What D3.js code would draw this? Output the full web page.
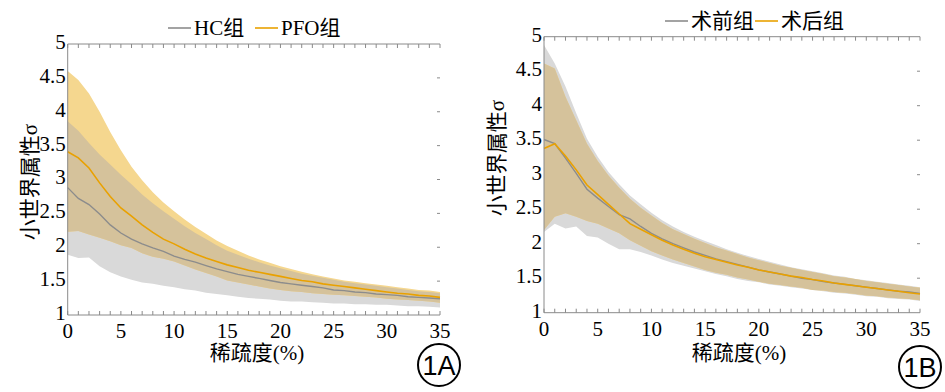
<!DOCTYPE html>
<html>
<head>
<meta charset="utf-8">
<script src="https://cdn.jsdelivr.net/npm/d3@7"></script>
<style>
  body { margin: 0; background: #fff; }
  svg { display: block; }
  .serif { font-family: "Liberation Serif", "Noto Sans CJK SC", serif; }
  .sans { font-family: "Liberation Sans", Arial, sans-serif; }
</style>
</head>
<body>
<div id="chart"></div>
<script>

// Data (sparsity 0..35 %)
const sparsity = [0,1,2,3,4,5,6,7,8,9,10,11,12,13,14,15,16,17,18,19,20,21,22,23,24,25,26,27,28,29,30,31,32,33,34,35];

// 1A : HC vs PFO
const hcMean  = [2.88,2.72,2.63,2.49,2.33,2.21,2.12,2.05,1.99,1.94,1.87,1.82,1.78,1.73,1.68,1.64,1.60,1.57,1.54,1.51,1.48,1.46,1.44,1.42,1.40,1.37,1.36,1.34,1.33,1.31,1.30,1.29,1.27,1.26,1.25,1.24];
const hcUpper = [3.86,3.72,3.54,3.37,3.22,3.07,2.93,2.78,2.65,2.53,2.42,2.31,2.21,2.12,2.03,1.95,1.89,1.83,1.78,1.73,1.69,1.65,1.61,1.58,1.55,1.52,1.49,1.47,1.45,1.43,1.41,1.39,1.37,1.35,1.34,1.32];
const hcLower = [1.89,1.84,1.85,1.72,1.63,1.57,1.52,1.48,1.46,1.43,1.41,1.38,1.36,1.33,1.31,1.29,1.27,1.25,1.24,1.23,1.21,1.20,1.20,1.19,1.18,1.17,1.17,1.16,1.16,1.15,1.15,1.14,1.13,1.13,1.12,1.11];
const pfoMean  = [3.41,3.32,3.17,2.95,2.75,2.58,2.46,2.33,2.22,2.12,2.05,1.97,1.90,1.84,1.79,1.74,1.70,1.66,1.63,1.60,1.57,1.54,1.51,1.49,1.46,1.44,1.42,1.40,1.38,1.36,1.34,1.32,1.31,1.29,1.28,1.26];
const pfoUpper = [4.60,4.47,4.27,4.00,3.70,3.43,3.19,2.99,2.81,2.66,2.53,2.41,2.30,2.20,2.10,2.02,1.95,1.88,1.82,1.77,1.72,1.68,1.64,1.60,1.57,1.54,1.51,1.49,1.47,1.45,1.43,1.41,1.39,1.37,1.36,1.34];
const pfoLower = [2.23,2.24,2.19,2.14,2.09,2.03,1.99,1.91,1.86,1.83,1.79,1.73,1.67,1.62,1.57,1.51,1.48,1.45,1.42,1.39,1.37,1.35,1.34,1.32,1.31,1.30,1.29,1.28,1.27,1.26,1.24,1.23,1.22,1.21,1.20,1.18];

// 1B : pre-op vs post-op
const preMean  = [3.51,3.45,3.24,3.02,2.79,2.66,2.54,2.42,2.36,2.25,2.15,2.07,2.00,1.94,1.88,1.83,1.78,1.74,1.70,1.66,1.62,1.59,1.56,1.53,1.50,1.48,1.45,1.43,1.41,1.39,1.37,1.35,1.33,1.31,1.30,1.28];
const preUpper = [4.88,4.61,4.28,3.89,3.52,3.26,3.04,2.86,2.70,2.57,2.45,2.34,2.25,2.17,2.10,2.04,1.98,1.92,1.87,1.82,1.78,1.74,1.70,1.66,1.63,1.60,1.57,1.54,1.52,1.49,1.47,1.45,1.43,1.41,1.39,1.37];
const preLower = [2.17,2.29,2.22,2.25,2.11,2.09,2.00,1.92,1.92,1.88,1.83,1.77,1.72,1.68,1.64,1.60,1.56,1.53,1.49,1.46,1.44,1.41,1.39,1.37,1.35,1.33,1.31,1.29,1.28,1.26,1.24,1.23,1.21,1.20,1.19,1.17];
const postMean  = [3.38,3.45,3.27,3.07,2.85,2.71,2.57,2.43,2.29,2.21,2.13,2.05,1.98,1.92,1.86,1.81,1.77,1.73,1.69,1.66,1.62,1.59,1.56,1.53,1.51,1.48,1.46,1.43,1.41,1.39,1.37,1.35,1.33,1.31,1.29,1.27];
const postUpper = [4.61,4.54,4.13,3.79,3.45,3.20,2.99,2.81,2.65,2.52,2.41,2.30,2.21,2.14,2.07,2.01,1.95,1.90,1.85,1.80,1.76,1.72,1.68,1.65,1.62,1.59,1.56,1.53,1.51,1.49,1.46,1.44,1.42,1.40,1.38,1.36];
const postLower = [2.20,2.39,2.44,2.39,2.33,2.29,2.22,2.15,2.05,1.97,1.89,1.83,1.77,1.72,1.67,1.62,1.58,1.55,1.51,1.48,1.45,1.42,1.40,1.38,1.36,1.33,1.32,1.30,1.29,1.27,1.25,1.24,1.22,1.21,1.20,1.18];

// tick labels
const xTicks = [0,5,10,15,20,25,30,35];
const yTicks = [1,1.5,2,2.5,3,3.5,4,4.5,5];
const yLabel = "小世界属性σ";
const xLabel = "稀疏度(%)";

// colors
const grayBand = "#d9d9d9";
const yellowBand = "#f5d78f";
const tanBand = "#d5c29b";
const grayLine = "#8c8c8c";
const orangeLine = "#e9a100";
const axisColor = "#8a8a8a";

const width = 945;
const height = 392;

const svg = d3.select("#chart").append("svg")
  .attr("width", width)
  .attr("height", height);

function drawPanel(p) {
  const x = d3.scaleLinear().domain([0, 35]).range([p.left, p.right]);
  const y = d3.scaleLinear().domain([1, 5]).range([p.bottom, p.top]);

  const rows = (lo, hi) => sparsity.map((s, i) => ({ s, lo: lo[i], hi: hi[i] }));
  const area = d3.area().x(d => x(d.s)).y0(d => y(d.lo)).y1(d => y(d.hi));
  const line = d3.line().x((d, i) => x(sparsity[i])).y(d => y(d));

  const g = svg.append("g");

  // bands: gray, yellow, overlap in tan
  const grayArea = area(rows(p.gLower, p.gUpper));
  const yellowArea = area(rows(p.oLower, p.oUpper));

  g.append("clipPath").attr("id", "clip" + p.id)
    .append("path").attr("d", grayArea);

  g.append("path").attr("d", grayArea).attr("fill", grayBand);
  g.append("path").attr("d", yellowArea).attr("fill", yellowBand);
  g.append("path").attr("d", yellowArea).attr("fill", tanBand)
    .attr("clip-path", `url(#clip${p.id})`);

  // mean lines
  g.append("path").attr("d", line(p.gMean))
    .attr("fill", "none").attr("stroke", grayLine).attr("stroke-width", 1.4);
  g.append("path").attr("d", line(p.oMean))
    .attr("fill", "none").attr("stroke", orangeLine).attr("stroke-width", 1.6);

  // frame: left, top and bottom axis lines
  const frame = g.append("g").attr("stroke", axisColor).attr("stroke-width", 1);
  frame.append("line").attr("x1", p.left).attr("x2", p.left).attr("y1", p.top).attr("y2", p.bottom);
  frame.append("line").attr("x1", p.left).attr("x2", p.right).attr("y1", p.top).attr("y2", p.top);
  frame.append("line").attr("x1", p.left).attr("x2", p.right).attr("y1", p.bottom).attr("y2", p.bottom);

  // minor ticks every 1 % on top and bottom
  frame.selectAll(".tt").data(sparsity).join("line")
    .attr("x1", d => x(d)).attr("x2", d => x(d))
    .attr("y1", p.top).attr("y2", p.top + 4);
  frame.selectAll(".bt").data(sparsity).join("line")
    .attr("x1", d => x(d)).attr("x2", d => x(d))
    .attr("y1", p.bottom).attr("y2", p.bottom - 4);

  // small dashes on the right side
  frame.selectAll(".rt").data(yTicks.slice(1, -1)).join("line")
    .attr("x1", p.right - 3).attr("x2", p.right)
    .attr("y1", d => y(d)).attr("y2", d => y(d));

  // tick labels
  g.append("g").attr("class", "serif").attr("font-size", 21)
    .selectAll("text").data(yTicks).join("text")
    .attr("x", p.left - 2).attr("y", d => y(d) - 2)
    .attr("dy", "0.33em")
    .attr("text-anchor", "end")
    .text(d => d);

  g.append("g").attr("class", "serif").attr("font-size", 21)
    .selectAll("text").data(xTicks).join("text")
    .attr("x", d => x(d)).attr("y", p.bottom + 16)
    .attr("dy", "0.33em")
    .attr("text-anchor", "middle")
    .text(d => d);

  // axis titles
  g.append("text").attr("class", "serif")
    .attr("transform", `translate(${p.yLabelX},${p.yLabelY}) rotate(-90)`)
    .attr("text-anchor", "middle").attr("dy", "0.35em")
    .attr("font-size", 21)
    .text(yLabel);

  g.append("text").attr("class", "serif")
    .attr("x", p.xLabelX).attr("y", p.xLabelY)
    .attr("text-anchor", "middle").attr("dy", "0.35em")
    .attr("font-size", 21)
    .text(xLabel);

  // legend
  const legend = g.append("g").attr("class", "serif").attr("font-size", 21);
  p.legend.forEach(item => {
    legend.append("line")
      .attr("x1", item.x).attr("x2", item.x + 23)
      .attr("y1", p.legendY).attr("y2", p.legendY)
      .attr("stroke", item.color).attr("stroke-width", 1.6);
    legend.append("text")
      .attr("x", item.x + 26).attr("y", p.legendY)
      .attr("dy", "0.35em")
      .text(item.name);
  });

  // panel badge
  const badge = g.append("g").attr("transform", `translate(${p.badgeX},${p.badgeY})`);
  badge.append("circle").attr("r", 21)
    .attr("fill", "none").attr("stroke", "#000").attr("stroke-width", 2);
  badge.append("text").attr("class", "sans")
    .attr("text-anchor", "middle").attr("dy", "0.36em")
    .attr("font-size", 27)
    .text(p.badge);
}

drawPanel({
  id: "A",
  left: 67.7, right: 440, top: 44, bottom: 315,
  gMean: hcMean, gUpper: hcUpper, gLower: hcLower,
  oMean: pfoMean, oUpper: pfoUpper, oLower: pfoLower,
  legendY: 28,
  legend: [
    { name: "HC组", x: 168, color: grayLine },
    { name: "PFO组", x: 255, color: orangeLine }
  ],
  yLabelX: 30, yLabelY: 182,
  xLabelX: 257, xLabelY: 353,
  badge: "1A", badgeX: 439, badgeY: 365
});

drawPanel({
  id: "B",
  left: 544, right: 920, top: 36.7, bottom: 312.7,
  gMean: preMean, gUpper: preUpper, gLower: preLower,
  oMean: postMean, oUpper: postUpper, oLower: postLower,
  legendY: 21,
  legend: [
    { name: "术前组", x: 665, color: grayLine },
    { name: "术后组", x: 755, color: orangeLine }
  ],
  yLabelX: 497, yLabelY: 158,
  xLabelX: 739, xLabelY: 353,
  badge: "1B", badgeX: 920, badgeY: 367
});

</script>
</body>
</html>
